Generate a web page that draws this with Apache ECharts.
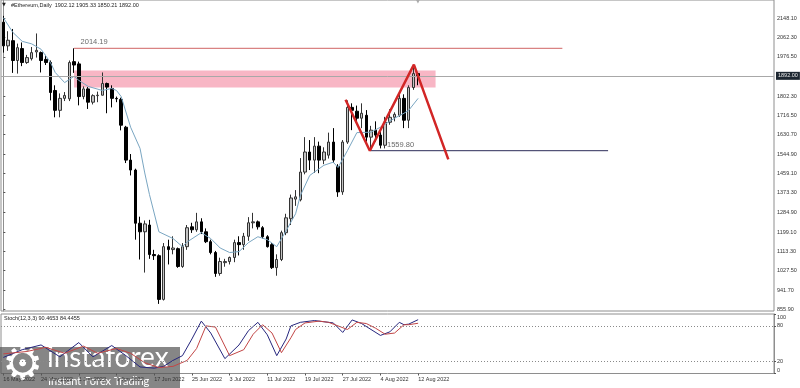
<!DOCTYPE html>
<html><head><meta charset="utf-8">
<script src="https://cdn.jsdelivr.net/npm/echarts@6/dist/echarts.min.js"></script>
<style>html,body{margin:0;padding:0;background:#fff}#c{width:800px;height:388px}</style>
</head><body><div id="c"></div>
<script>
// ---- data ----
const totalSlots = 164; // daily slots on the time axis (candles + empty space on the right)
const opens  = [2130,2025,2048,1960,2013,1951,1968,1998,1995,1965,1951,1827,1739,1792,1790,1955,1945,1800,1834,1775,1804,1806,1858,1836,1792,1787,1664,1518,1474,1238,1200,1230,1099,1094,900,1134,1121,1125,1046,1134,1222,1209,1244,1200,1156,1108,1015,1063,1068,1086,1152,1143,1180,1240,1244,1218,1178,1143,1041,1077,1196,1258,1345,1342,1465,1554,1518,1580,1518,1540,1598,1490,1377,1598,1752,1735,1704,1717,1620,1651,1629,1584,1686,1708,1717,1792,1695,1840,1902.12];
const highs  = [2158,2090,2100,2035,2040,1985,2020,2080,2000,1985,1960,1850,1814,1820,1960,2014.19,1955,1845,1842,1810,1822,1907,1862,1850,1800,1795,1670,1545,1480,1267,1250,1253,1120,1100,1150,1165,1180,1130,1150,1230,1240,1284,1260,1215,1165,1115,1085,1080,1090,1165,1180,1195,1265,1284,1250,1225,1185,1150,1100,1205,1280,1365,1385,1527,1620,1607,1620,1600,1575,1640,1660,1500,1607,1783,1770,1760,1770,1740,1670,1690,1660,1710,1744,1730,1810,1810,1850,1938,1905.33];
const lows   = [1995,2003,1905,1902,1935,1945,1960,1973,1907,1940,1783,1708,1708,1780,1780,1905,1761,1788,1745,1765,1775,1805,1726,1752,1775,1650,1505,1450,1165,1077,1019,1080,1075,880,895,1055,1100,1040,1040,1120,1195,1200,1190,1150,1100,1000,1005,1045,1055,1065,1095,1120,1160,1215,1210,1170,1130,1035,1005,1070,1185,1230,1315,1335,1455,1474,1461,1460,1500,1525,1505,1355,1364,1590,1651,1680,1660,1600,1559.8,1600,1570,1570,1675,1690,1710,1660,1660,1830,1850.21];
const closes = [2025,2050,1960,2017,1951,1973,1995,2005,1960,1951,1818,1739,1792,1805,1951,1940,1800,1834,1775,1804,1806,1858,1842,1792,1790,1673,1518,1474,1238,1200,1235,1099,1094,900,1134,1121,1128,1046,1134,1218,1209,1244,1200,1156,1108,1015,1068,1068,1086,1152,1143,1180,1240,1244,1222,1178,1134,1041,1077,1196,1262,1350,1355,1465,1554,1518,1580,1518,1554,1598,1518,1377,1598,1752,1739,1704,1726,1620,1651,1629,1584,1686,1708,1721,1792,1695,1840,1902,1892.00];

const maIdx = [0,2,4,6,8,10,11,13,15,16,18,21,23,24,25,27,29,30,31,33,36,38,39,42,44,46,48,50,52,54,56,58,60,62,63,65,68,70,71,73,75,78,80,83,85,86,88];
const maVal = [2150,2085,2045,2034,2010,1951,1907,1862,1890,1872,1845,1827,1836,1827,1800,1664,1570,1461,1365,1200,1170,1134,1155,1196,1170,1128,1108,1112,1152,1178,1165,1134,1205,1280,1360,1450,1495,1509,1485,1560,1640,1642,1664,1704,1726,1739,1792];

const kIdx = [0,4,8,12,16,19,23,26,29,32,34,36,38,40,42,44,47,50,52,54,56,58,60,61,63,66,68,70,72,74,76,78,80,82,84,85,86,88];
const kVal = [27,40,48,28,52,28,47,30,11,9,12,22,30,58,88,68,25,48,72,86,65,30,58,80,86,89,87,85,69,90,84,74,64,70,86,82,83,90.4653];
const dIdx = [0,5,9,13,17,20,24,27,30,33,36,39,41,43,45,48,51,53,55,57,59,61,62,64,67,69,71,73,75,77,79,81,83,85,86,88];
const dVal = [33,37,44,34,46,34,42,34,18,10,12,22,42,80,78,30,40,66,82,68,35,60,74,85,88,86,80,74,86,84,76,66,68,82,82,84.4455];

const priceTicks = [2148.10,2062.30,1976.50,1802.30,1716.50,1630.70,1544.90,1459.10,1373.30,1284.90,1199.10,1113.30,1027.50,941.70,855.90];
const stochTicks = [0,20,80,100];
const stochLevels = [20,80];

const zoneLow = 1840, zoneHigh = 1916, zoneFrom = 15, zoneTo = 91.7;
const resistance = 2014.19, resFrom = 15, resTo = 118.6;
const support = 1559.80, supFrom = 77.9, supTo = 128.3;
const zigIdx = [72.6, 77.75, 87.1, 94.4];
const zigVal = [1786, 1559.8, 1942, 1521];
const lastPrice = 1892.00;
const header = '#Ethereum,Daily  1902.12 1905.33 1850.21 1892.00';
const stochTitle = 'Stoch(12,3,3) 90.4653 84.4455';

// ---- build ----
const MONTHS=['Jan','Feb','Mar','Apr','May','Jun','Jul','Aug','Sep','Oct','Nov','Dec'];
const dates=[];
for(let i=0;i<totalSlots;i++){const d=new Date(Date.UTC(2022,4,16+i));dates.push(d.getUTCDate()+' '+MONTHS[d.getUTCMonth()]+' '+d.getUTCFullYear());}
const candles = opens.map((o,i)=>[o,closes[i],lows[i],highs[i]]);
function sparse(idx,val){const a=new Array(opens.length).fill(null);idx.forEach((k,j)=>a[k]=val[j]);return a;}
const lastIdx = opens.length-1;
const F = 'Liberation Sans, Arial, sans-serif';
const labelInterval = (i)=> i%8===0 && i<=lastIdx;

const chart = echarts.init(document.getElementById('c'), null, {renderer:'canvas'});
chart.setOption({
  animation:false,
  backgroundColor:'#ffffff',
  grid:[
    {left:1,right:26,top:0,height:311,show:true,borderColor:'#8e8e8e',borderWidth:1,backgroundColor:'transparent'},
    {left:1,right:26,top:314,height:59.5,show:true,borderColor:'#8e8e8e',borderWidth:1,backgroundColor:'transparent'}
  ],
  xAxis:[
    {type:'category',gridIndex:0,data:dates,boundaryGap:true,axisLine:{show:false},axisTick:{show:false},axisLabel:{show:false},splitLine:{show:false}},
    {type:'value',gridIndex:0,min:-0.5,max:totalSlots-0.5,show:false},
    {type:'category',gridIndex:1,data:dates,boundaryGap:true,axisLine:{show:false},
      axisTick:{show:true,interval:labelInterval,alignWithLabel:true,length:2,lineStyle:{color:'#555'}},
      axisLabel:{interval:labelInterval,align:'left',fontSize:5.5,color:'#333',margin:3,fontFamily:F},splitLine:{show:false}}
  ],
  yAxis:[
    {type:'value',gridIndex:0,position:'right',min:848.5,max:2228.5,splitLine:{show:false},
      axisLine:{show:true,lineStyle:{color:'#8e8e8e'}},
      axisTick:{show:true,customValues:priceTicks,length:2,lineStyle:{color:'#555'}},
      axisLabel:{customValues:priceTicks,formatter:v=>v.toFixed(2),fontSize:5.5,color:'#333',margin:3,fontFamily:F}},
    {type:'value',gridIndex:1,position:'right',min:0,max:100,splitLine:{show:false},
      axisLine:{show:true,lineStyle:{color:'#8e8e8e'}},
      axisTick:{show:true,customValues:stochTicks,length:2,lineStyle:{color:'#555'}},
      axisLabel:{customValues:stochTicks,fontSize:5.5,color:'#333',margin:3,fontFamily:F,verticalAlignMinLabel:'bottom',verticalAlignMaxLabel:'top'}}
  ],
  series:[
    {type:'line',xAxisIndex:1,yAxisIndex:0,z:1,symbol:'none',silent:true,
      data:[[resFrom,resistance],[resTo,resistance]],lineStyle:{color:'#d06464',width:1},
      markArea:{silent:true,itemStyle:{color:'#f8b6c5'},data:[[{coord:[zoneFrom,zoneHigh]},{coord:[zoneTo,zoneLow]}]]},
      markLine:{silent:true,symbol:'none',lineStyle:{color:'#a8a8a8',width:1,type:'solid'},
        label:{show:true,position:'end',formatter:lastPrice.toFixed(2),backgroundColor:'#1d2731',color:'#e8e8e8',fontSize:5.5,padding:[1,2],distance:2,fontFamily:F},
        data:[{yAxis:lastPrice}]}},
    {type:'line',xAxisIndex:1,yAxisIndex:0,z:1,symbol:'none',silent:true,
      data:[[supFrom,support],[supTo,support]],lineStyle:{color:'#2c2c58',width:1}},
    {type:'scatter',xAxisIndex:1,yAxisIndex:0,z:3,symbolSize:1,itemStyle:{color:'rgba(0,0,0,0)'},silent:true,
      data:[
        {value:[resFrom,resistance],label:{show:true,position:'right',distance:0,offset:[6,-6],formatter:resistance.toFixed(2),fontSize:7.5,color:'#444',fontFamily:F}},
        {value:[supFrom,support],label:{show:true,position:'right',distance:0,offset:[16,-5.5],formatter:support.toFixed(2),fontSize:7.5,color:'#444',fontFamily:F}}
      ]},
    {type:'candlestick',xAxisIndex:0,yAxisIndex:0,z:2,barWidth:3,silent:true,data:candles,
      itemStyle:{color:'#c4c4c4',color0:'#000000',borderColor:'#333333',borderColor0:'#000000',borderWidth:1}},
    {type:'line',xAxisIndex:0,yAxisIndex:0,z:3,symbol:'none',connectNulls:true,silent:true,
      data:sparse(maIdx,maVal),lineStyle:{color:'#7aa6c2',width:1}},
    {type:'line',xAxisIndex:1,yAxisIndex:0,z:5,symbol:'none',silent:true,
      data:zigIdx.map((x,i)=>[x,zigVal[i]]),lineStyle:{color:'#d22626',width:2.5}},
    {type:'line',xAxisIndex:2,yAxisIndex:1,z:3,symbol:'none',connectNulls:true,silent:true,
      data:sparse(kIdx,kVal),lineStyle:{color:'#26267e',width:1},
      markLine:{silent:true,symbol:'none',label:{show:false},lineStyle:{color:'#8a8a8a',width:1,type:[1,2]},
        data:stochLevels.map(v=>({yAxis:v}))}},
    {type:'line',xAxisIndex:2,yAxisIndex:1,z:3,symbol:'none',connectNulls:true,silent:true,
      data:sparse(dIdx,dVal),lineStyle:{color:'#c24646',width:1}}
  ],
  graphic:[
    {type:'text',left:2,top:2,z:50,style:{text:'▼',font:'5px DejaVu Sans',fill:'#222'}},
    {type:'text',left:11,top:2,z:50,style:{text:header,font:'5.5px '+F,fill:'#222'}},
    {type:'text',left:416,top:-1,z:50,style:{text:'▼',font:'5px DejaVu Sans',fill:'#aaa'}},
    {type:'text',left:4,top:315,z:50,style:{text:stochTitle,font:'5.5px '+F,fill:'#222'}},
    {type:'group',left:0,top:344,z:100,children:[
      {type:'rect',shape:{x:0,y:0,width:180,height:44},style:{fill:'rgba(88,88,88,0.72)'}},
      {type:'text',x:2,y:-3,style:{text:'⚙',font:'46px DejaVu Sans',fill:'#ffffff'}},
      {type:'text',x:47,y:-3,style:{text:'instaforex',font:'28px Lato',fill:'#ffffff'}},
      {type:'text',x:48,y:29,style:{text:'Instant Forex Trading',font:'11px Lato',fill:'#ffffff'}}
    ]}
  ]
});
</script></body></html>
